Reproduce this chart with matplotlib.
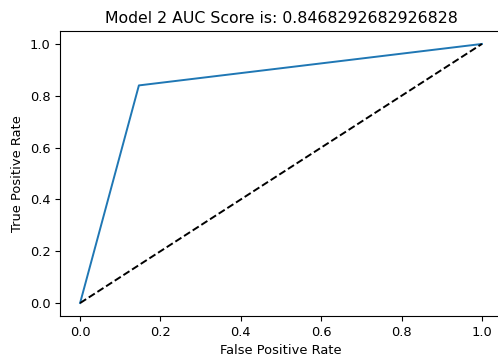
import matplotlib

matplotlib.use("Agg")
import matplotlib.pyplot as plt

# ROC points for model 2 (single decision threshold)
fpr = [0.0, 6 / 41, 1.0]
tpr = [0.0, 0.84, 1.0]
chance = [0.0, 1.0]
auc_score = 0.8468292682926828

plt.rcParams["font.size"] = 9.4
plt.rcParams["axes.titlesize"] = 11.3
plt.rcParams["axes.labelsize"] = 9.4
plt.rcParams["lines.linewidth"] = 1.4

fig = plt.figure(figsize=(4.98, 3.56), dpi=100)
ax = fig.add_axes([60 / 498, 40 / 356, 442 / 498, 285 / 356])

ax.plot(fpr, tpr)
ax.plot(chance, chance, "k--")
ax.set_xlabel("False Positive Rate")
ax.set_ylabel("True Positive Rate")
ax.set_title(f"Model 2 AUC Score is: {auc_score}")

fig.savefig("out.png", dpi=100)
plt.close(fig)
